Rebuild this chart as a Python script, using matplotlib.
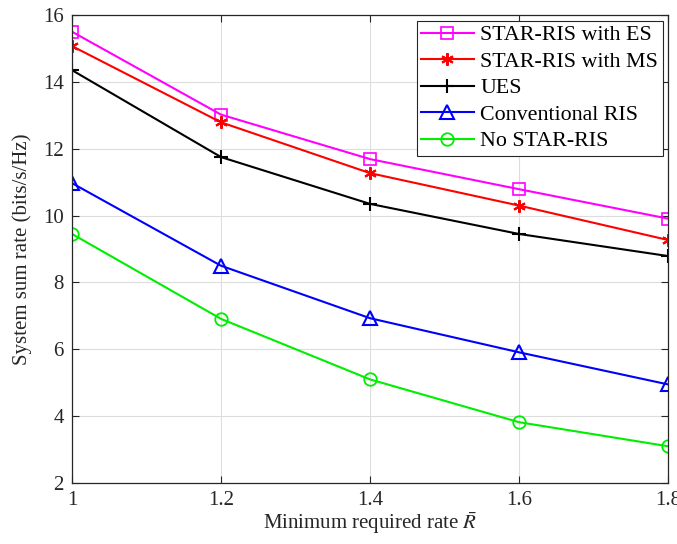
import matplotlib
matplotlib.use("Agg")
import matplotlib.pyplot as plt

plt.rcParams['font.family'] = ['Liberation Serif', 'DejaVu Serif']
plt.rcParams['mathtext.fontset'] = 'stix'

x = [1.0, 1.2, 1.4, 1.6, 1.8]
es = [15.50, 13.02, 11.69, 10.79, 9.91]
ms = [15.07, 12.79, 11.27, 10.30, 9.27]
ues = [14.35, 11.75, 10.35, 9.45, 8.79]
conv = [10.97, 8.50, 6.93, 5.91, 4.95]
nostar = [9.45, 6.91, 5.10, 3.82, 3.10]

labels = ["STAR-RIS with ES", "STAR-RIS with MS", "UES", "Conventional RIS", "No STAR-RIS"]
xticks = [1, 1.2, 1.4, 1.6, 1.8]
xticklabels = ["1", "1.2", "1.4", "1.6", "1.8"]
yticks = [2, 4, 6, 8, 10, 12, 14, 16]

fig = plt.figure(figsize=(6.77, 5.44), dpi=100)
ax = fig.add_axes([0.1064, 0.1121, 0.8803, 0.8603])

lw = 1.5
ax.plot(x, es, color='#FF00FF', marker='s', ms=8, mfc='none', mew=1.2, lw=lw, label=labels[0])
ax.plot(x, ms, color='#FF0000', marker=(6, 2, 0), ms=9, mew=1.5, lw=lw, label=labels[1])
ax.plot(x, ues, color='#000000', marker='+', ms=10, mew=1.5, lw=lw, label=labels[2])
ax.plot(x, conv, color='#0000FF', marker='^', ms=10, mfc='none', mew=1.5, lw=lw, label=labels[3])
ax.plot(x, nostar, color='#00EE00', marker='o', ms=9, mfc='none', mew=1.3, lw=lw, label=labels[4])

ax.set_xlim(1, 1.8)
ax.set_ylim(2, 16)
ax.set_xticks(xticks)
ax.set_xticklabels(xticklabels)
ax.set_yticks(yticks)
ax.tick_params(direction='in', top=True, right=True, labelsize=15, colors='#262626', length=5, width=0.8, pad=6)
for s in ax.spines.values():
    s.set_color('#262626')
    s.set_linewidth(0.9)
ax.grid(True, color='#DDDDDD', lw=0.8)
ax.set_axisbelow(True)

ax.set_xlabel(r"Minimum required rate $\bar{R}$", fontsize=15, color='#262626', labelpad=0)
ax.set_ylabel("System sum rate (bits/s/Hz)", fontsize=15, color='#262626', labelpad=8)

leg = ax.legend(loc='upper right', fontsize=15.8, frameon=True, fancybox=False, edgecolor='#262626',
                framealpha=1, borderpad=0.2, labelspacing=0.28, handlelength=2.4, handletextpad=0.3,
                borderaxespad=0.25)
leg.get_frame().set_linewidth(0.8)

fig.savefig("out.png", dpi=100)
